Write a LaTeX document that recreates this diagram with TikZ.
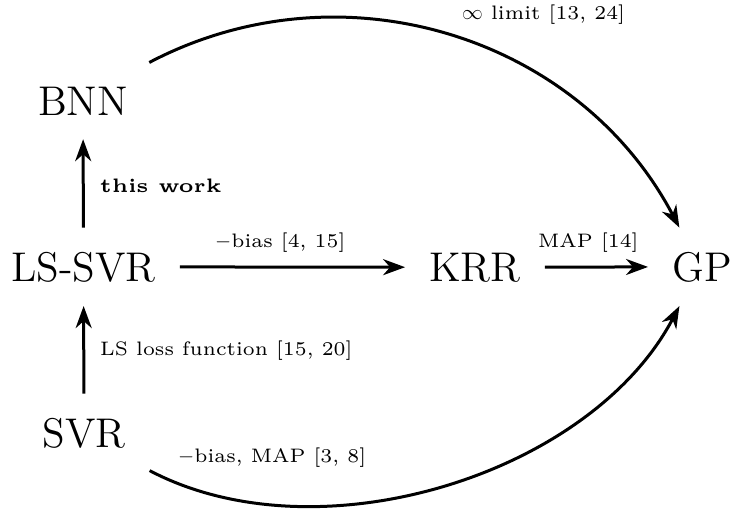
\documentclass[tikz,border=0pt]{standalone}
\usepackage{fontspec}
\newfontfamily\mainf{lmroman12-regular.otf}
\newfontfamily\labf{lmroman6-regular.otf}[BoldFont=lmroman5-bold.otf]
\usetikzlibrary{arrows.meta}
\tikzset{
  mainnode/.style={font=\mainf\fontsize{41.5}{42}\selectfont, inner sep=24pt, anchor=base},
  lab/.style={font=\labf\fontsize{19.5}{20}\selectfont, inner sep=0pt, anchor=base west},
  arr/.style={line width=3pt, -{Stealth[length=22pt,width=16pt,inset=7pt]}}
}
\begin{document}
\begin{tikzpicture}[x=1pt,y=-1pt]
\useasboundingbox (0,0) rectangle (732,512);
\node[mainnode] (bnn) at (83,115) {BNN};
\node[mainnode] (lssvr) at (83.5,281) {LS-SVR};
\node[mainnode] (krr) at (475,281) {KRR};
\node[mainnode] (gp) at (702,281) {GP};
\node[mainnode] (svr) at (84,447) {SVR};

\draw[arr] (lssvr) -- (bnn);
\draw[arr] (svr) -- (lssvr);
\draw[arr] (lssvr) -- (krr);
\draw[arr] (krr) -- (gp);
\draw[arr] (bnn) to[bend left=45] (gp);
\draw[arr] (svr) to[bend right=45, looseness=0.88] (gp);

\node[lab] (l1) at (462,19.5) {$\infty$ limit [13, 24]};
\node[lab] (l2) at (100,192) {\bfseries this work};
\node[lab] (l3) at (215,247) {$-$bias [4, 15]};
\node[lab] (l4) at (538,247) {MAP [14]};
\node[lab] (l5) at (100,355) {LS loss function [15, 20]};
\node[lab] (l6) at (178,462) {$-$bias, MAP [3, 8]};
\end{tikzpicture}
\end{document}
